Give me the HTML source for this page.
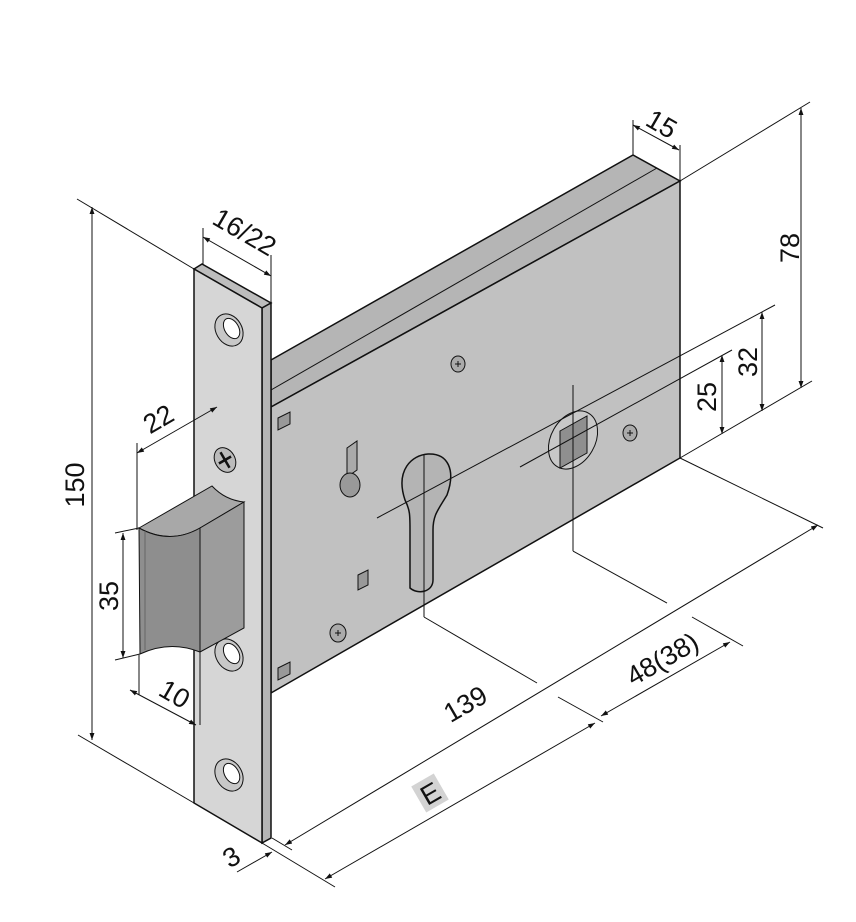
<!DOCTYPE html>
<html><head><meta charset="utf-8"><style>
html,body{margin:0;padding:0;background:#fff;}
svg{display:block;}
text{font-family:"Liberation Sans",sans-serif;font-size:27px;fill:#111;}
</style></head><body>
<svg width="856" height="922" viewBox="0 0 856 922" xmlns="http://www.w3.org/2000/svg">
<defs>
<marker id="a" viewBox="0 0 10 10" refX="10" refY="5" markerWidth="7" markerHeight="7" orient="auto-start-reverse"><path d="M0,1.5 L10,5 L0,8.5 z" fill="#111"/></marker>
</defs>
<g stroke="#111" stroke-width="1" fill="none">
<path d="M271,360 L633,155 L680,181 L271,407 Z" fill="#b5b5b5" stroke-width="1.5"/>
<line x1="271" y1="390" x2="657" y2="168"/>
<path d="M271,407 L680,181 L680,458 L271,693 Z" fill="#c1c1c1" stroke-width="1.5"/>
<path d="M194,269 L202,264 L271,303 L262,308 Z" fill="#bdbdbd" stroke-width="1.5"/>
<path d="M262,308 L271,303 L271,838 L262,843 Z" fill="#b5b5b5" stroke-width="1.5"/>
<path d="M194,269 L262,308 L262,843 L194,803 Z" fill="#d6d6d6" stroke-width="1.5"/>
<g transform="translate(229,330) rotate(-30)"><ellipse rx="13" ry="17" fill="#c8c8c8"/><ellipse cx="3" cy="0" rx="7" ry="11" fill="#fff"/></g>
<g transform="translate(229,655) rotate(-30)"><ellipse rx="13" ry="17" fill="#c8c8c8"/><ellipse cx="3" cy="0" rx="7" ry="11" fill="#fff"/></g>
<g transform="translate(229,775) rotate(-30)"><ellipse rx="13" ry="17" fill="#c8c8c8"/><ellipse cx="3" cy="0" rx="7" ry="11" fill="#fff"/></g>
<g transform="translate(225,460) rotate(-30)"><ellipse rx="10" ry="13" fill="#bbb"/><line x1="-7" y1="0" x2="7" y2="0" stroke-width="2.5"/><line x1="0" y1="-9" x2="0" y2="9" stroke-width="2.5"/></g>
<path d="M139,528 L212,486 Q225,500 244,502 L200,528 Q170,545 139,528 Z" fill="#a8a8a8"/>
<path d="M200,528 L244,502 L244,628 L200,652 Z" fill="#9c9c9c"/>
<path d="M139,528 Q170,545 200,528 L200,652 Q170,640 140,654 Z" fill="#8e8e8e"/>
<line x1="145" y1="531" x2="145" y2="650" stroke="#666"/>
<path d="M278,418 L290,412 L290,424 L278,430 Z" fill="#999"/>
<path d="M278,668 L290,662 L290,674 L278,680 Z" fill="#999"/>
<path d="M358,575 L368,570 L368,585 L358,590 Z" fill="#999"/>
<path d="M347,448 L357,441 L357,470 L347,477 Z" fill="#aaa"/>
<ellipse cx="350" cy="485" rx="10" ry="12" fill="#999"/>
<g transform="translate(458,364)"><ellipse rx="7" ry="8" fill="#aaa"/><path d="M-3,0 H3 M0,-3 V3"/></g>
<g transform="translate(630,433)"><ellipse rx="7" ry="8" fill="#aaa"/><path d="M-3,0 H3 M0,-3 V3"/></g>
<g transform="translate(338,633)"><ellipse rx="8" ry="9" fill="#aaa"/><path d="M-3,0 H3 M0,-3 V3"/></g>
<path d="M405,500 C395,470 412,455 428,454 C448,453 456,470 447,495 C438,510 433,515 433,530 L433,580 C433,592 418,595 410,588 L410,530 C410,515 410,510 405,500 Z" fill="#b4b4b4" stroke-width="1.5"/>
<g transform="translate(573,440) rotate(30)"><ellipse rx="22" ry="31" fill="#c8c8c8"/></g>
<path d="M560,431 L587,416 L587,453 L560,468 Z" fill="#8f8f8f"/>
<line x1="424" y1="455" x2="424" y2="617"/>
<line x1="424" y1="617" x2="537" y2="683"/>
<line x1="558" y1="697" x2="603" y2="722"/>
<line x1="573" y1="385" x2="573" y2="551"/>
<line x1="573" y1="551" x2="667" y2="603"/>
<line x1="692" y1="617" x2="743" y2="646"/>
<line x1="377" y1="518" x2="775" y2="305"/>
<line x1="520" y1="467" x2="732" y2="350"/>
<line x1="77" y1="199" x2="194" y2="269"/>
<line x1="78" y1="735" x2="194" y2="803"/>
<line x1="203" y1="228" x2="203" y2="264"/>
<line x1="271" y1="255" x2="271" y2="303"/>
<line x1="633" y1="120" x2="633" y2="155"/>
<line x1="680" y1="145" x2="680" y2="181"/>
<line x1="680" y1="181" x2="810" y2="102"/>
<line x1="680" y1="458" x2="812" y2="381"/>
<line x1="680" y1="458" x2="823" y2="528"/>
<line x1="262" y1="843" x2="335" y2="887"/>
<line x1="272" y1="838" x2="292" y2="850"/>
<line x1="137" y1="443" x2="137" y2="530"/>
<line x1="115" y1="533" x2="139" y2="528"/>
<line x1="115" y1="660" x2="140" y2="654"/>
<line x1="139" y1="655" x2="139" y2="695"/>
<line x1="200" y1="652" x2="200" y2="725"/>
<line x1="92" y1="207" x2="92" y2="740" marker-start="url(#a)" marker-end="url(#a)"/>
<line x1="203" y1="237" x2="271" y2="276" marker-start="url(#a)" marker-end="url(#a)"/>
<line x1="633" y1="125" x2="679" y2="150" marker-start="url(#a)" marker-end="url(#a)"/>
<line x1="801" y1="108" x2="801" y2="388" marker-start="url(#a)" marker-end="url(#a)"/>
<line x1="762" y1="312" x2="762" y2="411" marker-start="url(#a)" marker-end="url(#a)"/>
<line x1="722" y1="355" x2="722" y2="434" marker-start="url(#a)" marker-end="url(#a)"/>
<line x1="137" y1="453" x2="217" y2="407" marker-start="url(#a)" marker-end="url(#a)"/>
<line x1="123" y1="533" x2="123" y2="658" marker-start="url(#a)" marker-end="url(#a)"/>
<line x1="130" y1="690" x2="196" y2="725" marker-start="url(#a)" marker-end="url(#a)"/>
<line x1="285" y1="845" x2="818" y2="525" marker-start="url(#a)" marker-end="url(#a)"/>
<line x1="325" y1="879" x2="595" y2="723" marker-start="url(#a)" marker-end="url(#a)"/>
<line x1="601" y1="716" x2="730" y2="642" marker-start="url(#a)" marker-end="url(#a)"/>
<line x1="237" y1="872" x2="272" y2="852" marker-end="url(#a)"/>
</g>
<text transform="translate(657,132) rotate(30)" text-anchor="middle">15</text>
<text transform="translate(240,240) rotate(30)" text-anchor="middle">16/22</text>
<text transform="translate(799,248) rotate(-90)" text-anchor="middle">78</text>
<text transform="translate(757,362) rotate(-90)" text-anchor="middle">32</text>
<text transform="translate(716,397) rotate(-90)" text-anchor="middle">25</text>
<text transform="translate(84,485) rotate(-90)" text-anchor="middle">150</text>
<text transform="translate(163,427) rotate(-30)" text-anchor="middle">22</text>
<text transform="translate(118,596) rotate(-90)" text-anchor="middle">35</text>
<text transform="translate(170,702) rotate(30)" text-anchor="middle">10</text>
<text transform="translate(470,712) rotate(-30)" text-anchor="middle">139</text>
<text transform="translate(667,667) rotate(-30)" text-anchor="middle">48(38)</text>
<g transform="translate(430,793) rotate(-30)"><rect x="-13" y="-15" width="26" height="30" fill="#d3d3d3"/><text x="0" y="10" text-anchor="middle">E</text></g>
<text transform="translate(236,865) rotate(-30)" text-anchor="middle">3</text>
</svg>
</body></html>
